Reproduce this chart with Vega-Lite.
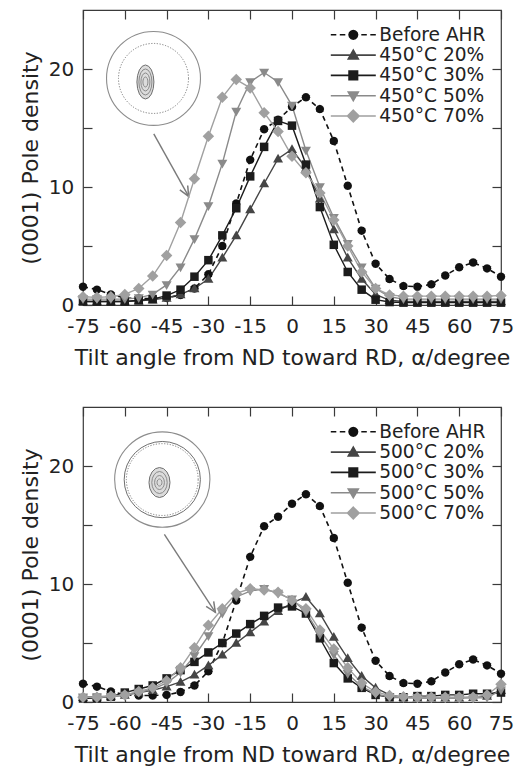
{
  "$schema": "https://vega.github.io/schema/vega-lite/v6.json",
  "padding": {"left": 18, "top": 8, "right": 5, "bottom": 5},
  "spacing": 102,
  "bounds": "flush",
  "resolve": {"scale": {"color": "independent", "shape": "independent", "stroke": "independent"}, "legend": {"color": "independent", "shape": "independent", "stroke": "independent"}},
  "config": {
    "font": "DejaVu Sans",
    "view": {"stroke": "#3a3a3a", "strokeWidth": 1.2},
    "axis": {"domain": false, "grid": false, "tickColor": "#3a3a3a", "tickWidth": 1.2, "labelColor": "#222222", "titleColor": "#222222", "labelFont": "DejaVu Sans", "titleFont": "DejaVu Sans", "titleFontWeight": "normal"},
    "legend": {"labelFont": "DejaVu Sans", "labelColor": "#222222"}
  },
  "datasets": {
    "curves": [
      {"series":"Before AHR","angle":-75,"density":1.55},{"series":"Before AHR","angle":-70,"density":1.3},{"series":"Before AHR","angle":-65,"density":0.9},{"series":"Before AHR","angle":-60,"density":0.6},{"series":"Before AHR","angle":-55,"density":0.55},{"series":"Before AHR","angle":-50,"density":0.55},{"series":"Before AHR","angle":-45,"density":0.6},{"series":"Before AHR","angle":-40,"density":0.85},{"series":"Before AHR","angle":-35,"density":1.4},{"series":"Before AHR","angle":-30,"density":2.6},{"series":"Before AHR","angle":-25,"density":5.0},{"series":"Before AHR","angle":-20,"density":8.6},{"series":"Before AHR","angle":-15,"density":12.3},{"series":"Before AHR","angle":-10,"density":14.9},{"series":"Before AHR","angle":-5,"density":15.7},{"series":"Before AHR","angle":0,"density":16.8},{"series":"Before AHR","angle":5,"density":17.6},{"series":"Before AHR","angle":10,"density":16.6},{"series":"Before AHR","angle":15,"density":13.9},{"series":"Before AHR","angle":20,"density":10.1},{"series":"Before AHR","angle":25,"density":6.3},{"series":"Before AHR","angle":30,"density":3.5},{"series":"Before AHR","angle":35,"density":2.2},{"series":"Before AHR","angle":40,"density":1.6},{"series":"Before AHR","angle":45,"density":1.55},{"series":"Before AHR","angle":50,"density":1.75},{"series":"Before AHR","angle":55,"density":2.5},{"series":"Before AHR","angle":60,"density":3.2},{"series":"Before AHR","angle":65,"density":3.6},{"series":"Before AHR","angle":70,"density":3.1},{"series":"Before AHR","angle":75,"density":2.4},
      {"series":"450°C 20%","angle":-75,"density":0.3},{"series":"450°C 20%","angle":-70,"density":0.3},{"series":"450°C 20%","angle":-65,"density":0.3},{"series":"450°C 20%","angle":-60,"density":0.3},{"series":"450°C 20%","angle":-55,"density":0.35},{"series":"450°C 20%","angle":-50,"density":0.45},{"series":"450°C 20%","angle":-45,"density":0.6},{"series":"450°C 20%","angle":-40,"density":0.9},{"series":"450°C 20%","angle":-35,"density":1.4},{"series":"450°C 20%","angle":-30,"density":2.2},{"series":"450°C 20%","angle":-25,"density":4.0},{"series":"450°C 20%","angle":-20,"density":5.9},{"series":"450°C 20%","angle":-15,"density":8.1},{"series":"450°C 20%","angle":-10,"density":10.3},{"series":"450°C 20%","angle":-5,"density":12.4},{"series":"450°C 20%","angle":0,"density":13.2},{"series":"450°C 20%","angle":5,"density":11.6},{"series":"450°C 20%","angle":10,"density":9.0},{"series":"450°C 20%","angle":15,"density":6.4},{"series":"450°C 20%","angle":20,"density":4.0},{"series":"450°C 20%","angle":25,"density":2.2},{"series":"450°C 20%","angle":30,"density":0.9},{"series":"450°C 20%","angle":35,"density":0.4},{"series":"450°C 20%","angle":40,"density":0.3},{"series":"450°C 20%","angle":45,"density":0.3},{"series":"450°C 20%","angle":50,"density":0.3},{"series":"450°C 20%","angle":55,"density":0.3},{"series":"450°C 20%","angle":60,"density":0.3},{"series":"450°C 20%","angle":65,"density":0.3},{"series":"450°C 20%","angle":70,"density":0.3},{"series":"450°C 20%","angle":75,"density":0.3},
      {"series":"450°C 30%","angle":-75,"density":0.3},{"series":"450°C 30%","angle":-70,"density":0.3},{"series":"450°C 30%","angle":-65,"density":0.3},{"series":"450°C 30%","angle":-60,"density":0.3},{"series":"450°C 30%","angle":-55,"density":0.4},{"series":"450°C 30%","angle":-50,"density":0.5},{"series":"450°C 30%","angle":-45,"density":0.8},{"series":"450°C 30%","angle":-40,"density":1.3},{"series":"450°C 30%","angle":-35,"density":2.4},{"series":"450°C 30%","angle":-30,"density":3.8},{"series":"450°C 30%","angle":-25,"density":5.9},{"series":"450°C 30%","angle":-20,"density":8.2},{"series":"450°C 30%","angle":-15,"density":10.9},{"series":"450°C 30%","angle":-10,"density":13.4},{"series":"450°C 30%","angle":-5,"density":15.6},{"series":"450°C 30%","angle":0,"density":15.2},{"series":"450°C 30%","angle":5,"density":11.9},{"series":"450°C 30%","angle":10,"density":8.3},{"series":"450°C 30%","angle":15,"density":5.1},{"series":"450°C 30%","angle":20,"density":2.8},{"series":"450°C 30%","angle":25,"density":1.3},{"series":"450°C 30%","angle":30,"density":0.45},{"series":"450°C 30%","angle":35,"density":0.25},{"series":"450°C 30%","angle":40,"density":0.2},{"series":"450°C 30%","angle":45,"density":0.2},{"series":"450°C 30%","angle":50,"density":0.2},{"series":"450°C 30%","angle":55,"density":0.2},{"series":"450°C 30%","angle":60,"density":0.2},{"series":"450°C 30%","angle":65,"density":0.2},{"series":"450°C 30%","angle":70,"density":0.2},{"series":"450°C 30%","angle":75,"density":0.2},
      {"series":"450°C 50%","angle":-75,"density":0.5},{"series":"450°C 50%","angle":-70,"density":0.5},{"series":"450°C 50%","angle":-65,"density":0.5},{"series":"450°C 50%","angle":-60,"density":0.5},{"series":"450°C 50%","angle":-55,"density":0.6},{"series":"450°C 50%","angle":-50,"density":0.9},{"series":"450°C 50%","angle":-45,"density":1.7},{"series":"450°C 50%","angle":-40,"density":3.2},{"series":"450°C 50%","angle":-35,"density":5.6},{"series":"450°C 50%","angle":-30,"density":8.4},{"series":"450°C 50%","angle":-25,"density":12.0},{"series":"450°C 50%","angle":-20,"density":16.4},{"series":"450°C 50%","angle":-15,"density":18.9},{"series":"450°C 50%","angle":-10,"density":19.7},{"series":"450°C 50%","angle":-5,"density":18.9},{"series":"450°C 50%","angle":0,"density":16.9},{"series":"450°C 50%","angle":5,"density":13.1},{"series":"450°C 50%","angle":10,"density":10.0},{"series":"450°C 50%","angle":15,"density":7.4},{"series":"450°C 50%","angle":20,"density":5.2},{"series":"450°C 50%","angle":25,"density":3.2},{"series":"450°C 50%","angle":30,"density":1.4},{"series":"450°C 50%","angle":35,"density":0.7},{"series":"450°C 50%","angle":40,"density":0.5},{"series":"450°C 50%","angle":45,"density":0.5},{"series":"450°C 50%","angle":50,"density":0.5},{"series":"450°C 50%","angle":55,"density":0.5},{"series":"450°C 50%","angle":60,"density":0.5},{"series":"450°C 50%","angle":65,"density":0.5},{"series":"450°C 50%","angle":70,"density":0.5},{"series":"450°C 50%","angle":75,"density":0.5},
      {"series":"450°C 70%","angle":-75,"density":0.7},{"series":"450°C 70%","angle":-70,"density":0.65},{"series":"450°C 70%","angle":-65,"density":0.7},{"series":"450°C 70%","angle":-60,"density":0.9},{"series":"450°C 70%","angle":-55,"density":1.4},{"series":"450°C 70%","angle":-50,"density":2.45},{"series":"450°C 70%","angle":-45,"density":4.2},{"series":"450°C 70%","angle":-40,"density":7.0},{"series":"450°C 70%","angle":-35,"density":10.7},{"series":"450°C 70%","angle":-30,"density":14.3},{"series":"450°C 70%","angle":-25,"density":17.6},{"series":"450°C 70%","angle":-20,"density":19.1},{"series":"450°C 70%","angle":-15,"density":18.4},{"series":"450°C 70%","angle":-10,"density":16.3},{"series":"450°C 70%","angle":-5,"density":14.7},{"series":"450°C 70%","angle":0,"density":12.6},{"series":"450°C 70%","angle":5,"density":11.2},{"series":"450°C 70%","angle":10,"density":9.5},{"series":"450°C 70%","angle":15,"density":7.2},{"series":"450°C 70%","angle":20,"density":5.0},{"series":"450°C 70%","angle":25,"density":2.8},{"series":"450°C 70%","angle":30,"density":1.4},{"series":"450°C 70%","angle":35,"density":0.85},{"series":"450°C 70%","angle":40,"density":0.75},{"series":"450°C 70%","angle":45,"density":0.75},{"series":"450°C 70%","angle":50,"density":0.75},{"series":"450°C 70%","angle":55,"density":0.75},{"series":"450°C 70%","angle":60,"density":0.75},{"series":"450°C 70%","angle":65,"density":0.75},{"series":"450°C 70%","angle":70,"density":0.75},{"series":"450°C 70%","angle":75,"density":0.8},
      {"series":"500°C 20%","angle":-75,"density":0.4},{"series":"500°C 20%","angle":-70,"density":0.45},{"series":"500°C 20%","angle":-65,"density":0.5},{"series":"500°C 20%","angle":-60,"density":0.6},{"series":"500°C 20%","angle":-55,"density":0.8},{"series":"500°C 20%","angle":-50,"density":1.0},{"series":"500°C 20%","angle":-45,"density":1.3},{"series":"500°C 20%","angle":-40,"density":1.7},{"series":"500°C 20%","angle":-35,"density":2.3},{"series":"500°C 20%","angle":-30,"density":3.1},{"series":"500°C 20%","angle":-25,"density":4.0},{"series":"500°C 20%","angle":-20,"density":5.0},{"series":"500°C 20%","angle":-15,"density":5.9},{"series":"500°C 20%","angle":-10,"density":6.8},{"series":"500°C 20%","angle":-5,"density":7.7},{"series":"500°C 20%","angle":0,"density":8.4},{"series":"500°C 20%","angle":5,"density":8.9},{"series":"500°C 20%","angle":10,"density":7.5},{"series":"500°C 20%","angle":15,"density":5.5},{"series":"500°C 20%","angle":20,"density":3.7},{"series":"500°C 20%","angle":25,"density":2.2},{"series":"500°C 20%","angle":30,"density":1.2},{"series":"500°C 20%","angle":35,"density":0.6},{"series":"500°C 20%","angle":40,"density":0.4},{"series":"500°C 20%","angle":45,"density":0.35},{"series":"500°C 20%","angle":50,"density":0.35},{"series":"500°C 20%","angle":55,"density":0.35},{"series":"500°C 20%","angle":60,"density":0.35},{"series":"500°C 20%","angle":65,"density":0.4},{"series":"500°C 20%","angle":70,"density":0.5},{"series":"500°C 20%","angle":75,"density":1.0},
      {"series":"500°C 30%","angle":-75,"density":0.3},{"series":"500°C 30%","angle":-70,"density":0.35},{"series":"500°C 30%","angle":-65,"density":0.45},{"series":"500°C 30%","angle":-60,"density":0.8},{"series":"500°C 30%","angle":-55,"density":1.1},{"series":"500°C 30%","angle":-50,"density":1.4},{"series":"500°C 30%","angle":-45,"density":2.0},{"series":"500°C 30%","angle":-40,"density":2.7},{"series":"500°C 30%","angle":-35,"density":3.4},{"series":"500°C 30%","angle":-30,"density":4.2},{"series":"500°C 30%","angle":-25,"density":5.0},{"series":"500°C 30%","angle":-20,"density":5.8},{"series":"500°C 30%","angle":-15,"density":6.6},{"series":"500°C 30%","angle":-10,"density":7.3},{"series":"500°C 30%","angle":-5,"density":8.0},{"series":"500°C 30%","angle":0,"density":8.1},{"series":"500°C 30%","angle":5,"density":7.5},{"series":"500°C 30%","angle":10,"density":5.4},{"series":"500°C 30%","angle":15,"density":3.3},{"series":"500°C 30%","angle":20,"density":2.0},{"series":"500°C 30%","angle":25,"density":1.2},{"series":"500°C 30%","angle":30,"density":0.6},{"series":"500°C 30%","angle":35,"density":0.4},{"series":"500°C 30%","angle":40,"density":0.4},{"series":"500°C 30%","angle":45,"density":0.5},{"series":"500°C 30%","angle":50,"density":0.5},{"series":"500°C 30%","angle":55,"density":0.6},{"series":"500°C 30%","angle":60,"density":0.6},{"series":"500°C 30%","angle":65,"density":0.7},{"series":"500°C 30%","angle":70,"density":0.7},{"series":"500°C 30%","angle":75,"density":0.8},
      {"series":"500°C 50%","angle":-75,"density":0.4},{"series":"500°C 50%","angle":-70,"density":0.4},{"series":"500°C 50%","angle":-65,"density":0.45},{"series":"500°C 50%","angle":-60,"density":0.55},{"series":"500°C 50%","angle":-55,"density":0.8},{"series":"500°C 50%","angle":-50,"density":1.1},{"series":"500°C 50%","angle":-45,"density":1.6},{"series":"500°C 50%","angle":-40,"density":2.5},{"series":"500°C 50%","angle":-35,"density":3.9},{"series":"500°C 50%","angle":-30,"density":5.6},{"series":"500°C 50%","angle":-25,"density":7.5},{"series":"500°C 50%","angle":-20,"density":8.9},{"series":"500°C 50%","angle":-15,"density":9.4},{"series":"500°C 50%","angle":-10,"density":9.6},{"series":"500°C 50%","angle":-5,"density":9.2},{"series":"500°C 50%","angle":0,"density":8.7},{"series":"500°C 50%","angle":5,"density":7.6},{"series":"500°C 50%","angle":10,"density":5.7},{"series":"500°C 50%","angle":15,"density":4.0},{"series":"500°C 50%","angle":20,"density":2.4},{"series":"500°C 50%","angle":25,"density":1.3},{"series":"500°C 50%","angle":30,"density":0.7},{"series":"500°C 50%","angle":35,"density":0.4},{"series":"500°C 50%","angle":40,"density":0.35},{"series":"500°C 50%","angle":45,"density":0.35},{"series":"500°C 50%","angle":50,"density":0.35},{"series":"500°C 50%","angle":55,"density":0.35},{"series":"500°C 50%","angle":60,"density":0.35},{"series":"500°C 50%","angle":65,"density":0.35},{"series":"500°C 50%","angle":70,"density":0.35},{"series":"500°C 50%","angle":75,"density":1.0},
      {"series":"500°C 70%","angle":-75,"density":0.4},{"series":"500°C 70%","angle":-70,"density":0.4},{"series":"500°C 70%","angle":-65,"density":0.5},{"series":"500°C 70%","angle":-60,"density":0.6},{"series":"500°C 70%","angle":-55,"density":0.9},{"series":"500°C 70%","angle":-50,"density":1.2},{"series":"500°C 70%","angle":-45,"density":1.8},{"series":"500°C 70%","angle":-40,"density":2.9},{"series":"500°C 70%","angle":-35,"density":4.6},{"series":"500°C 70%","angle":-30,"density":6.5},{"series":"500°C 70%","angle":-25,"density":7.9},{"series":"500°C 70%","angle":-20,"density":9.2},{"series":"500°C 70%","angle":-15,"density":9.6},{"series":"500°C 70%","angle":-10,"density":9.5},{"series":"500°C 70%","angle":-5,"density":9.3},{"series":"500°C 70%","angle":0,"density":8.6},{"series":"500°C 70%","angle":5,"density":7.9},{"series":"500°C 70%","angle":10,"density":6.1},{"series":"500°C 70%","angle":15,"density":4.5},{"series":"500°C 70%","angle":20,"density":2.9},{"series":"500°C 70%","angle":25,"density":1.6},{"series":"500°C 70%","angle":30,"density":0.85},{"series":"500°C 70%","angle":35,"density":0.55},{"series":"500°C 70%","angle":40,"density":0.45},{"series":"500°C 70%","angle":45,"density":0.4},{"series":"500°C 70%","angle":50,"density":0.4},{"series":"500°C 70%","angle":55,"density":0.4},{"series":"500°C 70%","angle":60,"density":0.4},{"series":"500°C 70%","angle":65,"density":0.4},{"series":"500°C 70%","angle":70,"density":0.6},{"series":"500°C 70%","angle":75,"density":1.5}
    ],
    "insets": [
      {"panel":"450°C","part":"circle","x":-49.7,"y":19.2},
      {"panel":"450°C","part":"contour","x":-52.6,"y":18.9},
      {"panel":"450°C","part":"arrow","x":-49.6,"y":14.5,"x2":-37.1,"y2":9.2},
      {"panel":"500°C","part":"circle","x":-46.55,"y":18.85},
      {"panel":"500°C","part":"contour","x":-47.55,"y":18.6},
      {"panel":"500°C","part":"arrow","x":-45.8,"y":14.2,"x2":-27.5,"y2":7.6}
    ]
  },
  "vconcat": [
    {
      "width": 418, "height": 295,
      "resolve": {"axis": {"x": "independent", "y": "independent"}, "scale": {"color": "independent", "shape": "independent", "stroke": "independent"}, "legend": {"color": "independent", "shape": "independent", "stroke": "independent"}},
      "layer": [
        {"data": {"name": "insets"}, "transform": [{"filter": "datum.panel === '450°C' && datum.part === 'circle'"}],
         "mark": {"type": "point", "shape": "circle", "size": 8825, "filled": false, "stroke": "#8c8c8c", "strokeWidth": 1.1, "opacity": 1},
         "encoding": {"x": {"field": "x", "type": "quantitative", "axis": null}, "y": {"field": "y", "type": "quantitative", "axis": null}}},
        {"data": {"name": "insets"}, "transform": [{"filter": "datum.panel === '450°C' && datum.part === 'circle'"}],
         "mark": {"type": "point", "shape": "circle", "size": 4902, "filled": false, "stroke": "#7a7a7a", "strokeWidth": 1, "strokeDash": [1.2, 1.6], "opacity": 1},
         "encoding": {"x": {"field": "x", "type": "quantitative", "axis": null}, "y": {"field": "y", "type": "quantitative", "axis": null}}},
        {"data": {"name": "insets"}, "transform": [{"filter": "datum.panel === '450°C' && datum.part === 'contour'"}],
         "mark": {"type": "point", "shape": "M0.5,0L0.462,0.383L0.354,0.707L0.191,0.924L0,1L-0.191,0.924L-0.354,0.707L-0.462,0.383L-0.5,0L-0.462,-0.383L-0.354,-0.707L-0.191,-0.924L0,-1L0.191,-0.924L0.354,-0.707L0.462,-0.383Z", "size": 1156, "filled": true, "fill": "#dcdcdc", "stroke": "#6e6e6e", "strokeWidth": 1, "opacity": 1},
         "encoding": {"x": {"field": "x", "type": "quantitative", "axis": null}, "y": {"field": "y", "type": "quantitative", "axis": null}}},
        {"data": {"name": "insets"}, "transform": [{"filter": "datum.panel === '450°C' && datum.part === 'contour'"}],
         "mark": {"type": "point", "shape": "M0.5,0L0.462,0.383L0.354,0.707L0.191,0.924L0,1L-0.191,0.924L-0.354,0.707L-0.462,0.383L-0.5,0L-0.462,-0.383L-0.354,-0.707L-0.191,-0.924L0,-1L0.191,-0.924L0.354,-0.707L0.462,-0.383Z", "size": 676, "filled": false, "stroke": "#808080", "strokeWidth": 0.9, "opacity": 1},
         "encoding": {"x": {"field": "x", "type": "quantitative", "axis": null}, "y": {"field": "y", "type": "quantitative", "axis": null}}},
        {"data": {"name": "insets"}, "transform": [{"filter": "datum.panel === '450°C' && datum.part === 'contour'"}],
         "mark": {"type": "point", "shape": "M0.5,0L0.462,0.383L0.354,0.707L0.191,0.924L0,1L-0.191,0.924L-0.354,0.707L-0.462,0.383L-0.5,0L-0.462,-0.383L-0.354,-0.707L-0.191,-0.924L0,-1L0.191,-0.924L0.354,-0.707L0.462,-0.383Z", "size": 324, "filled": false, "stroke": "#808080", "strokeWidth": 0.9, "opacity": 1},
         "encoding": {"x": {"field": "x", "type": "quantitative", "axis": null}, "y": {"field": "y", "type": "quantitative", "axis": null}}},
        {"data": {"name": "insets"}, "transform": [{"filter": "datum.panel === '450°C' && datum.part === 'contour'"}],
         "mark": {"type": "point", "shape": "M0.5,0L0.462,0.383L0.354,0.707L0.191,0.924L0,1L-0.191,0.924L-0.354,0.707L-0.462,0.383L-0.5,0L-0.462,-0.383L-0.354,-0.707L-0.191,-0.924L0,-1L0.191,-0.924L0.354,-0.707L0.462,-0.383Z", "size": 100, "filled": false, "stroke": "#808080", "strokeWidth": 0.9, "opacity": 1},
         "encoding": {"x": {"field": "x", "type": "quantitative", "axis": null}, "y": {"field": "y", "type": "quantitative", "axis": null}}},
        {"data": {"name": "insets"}, "transform": [{"filter": "datum.panel === '450°C' && datum.part === 'arrow'"}],
         "mark": {"type": "rule", "stroke": "#7a7a7a", "strokeWidth": 1.4},
         "encoding": {"x": {"field": "x", "type": "quantitative", "axis": null}, "y": {"field": "y", "type": "quantitative", "axis": null}, "x2": {"field": "x2"}, "y2": {"field": "y2"}}},
        {"data": {"name": "insets"}, "transform": [{"filter": "datum.panel === '450°C' && datum.part === 'arrow'"}],
         "mark": {"type": "point", "shape": "M-0.45,-1L0,0L0.45,-1", "size": 400, "angle": -29, "filled": false, "stroke": "#7a7a7a", "strokeWidth": 1.5, "opacity": 1},
         "encoding": {"x": {"field": "x2", "type": "quantitative", "axis": null}, "y": {"field": "y2", "type": "quantitative", "axis": null}}},
        {"data": {"name": "curves"}, "transform": [{"filter": "datum.series === 'Before AHR'"}],
         "mark": {"type": "line", "strokeDash": [5, 4], "strokeWidth": 1.6},
         "encoding": {
           "x": {"field": "angle", "type": "quantitative", "scale": {"domain": [-75, 75], "nice": false, "zero": false},
                 "axis": {"orient": "bottom", "values": [-75, -60, -45, -30, -15, 0, 15, 30, 45, 60, 75], "labelExpr": "datum.value < 0 ? '-' + abs(datum.value) : '' + datum.value", "title": "Tilt angle from ND toward RD, α/degree", "labelFontSize": 20, "titleFontSize": 22, "tickSize": -9, "labelPadding": 20, "titlePadding": 11, "labelOverlap": false, "labelFlush": false, "labelBound": false}},
           "y": {"field": "density", "type": "quantitative", "scale": {"domain": [0, 25], "nice": false},
                 "axis": {"orient": "left", "values": [0, 5, 10, 15, 20], "labelExpr": "datum.value % 10 === 0 ? datum.label : ''", "title": "(0001) Pole density", "labelFontSize": 20, "titleFontSize": 22, "tickSize": -9, "labelPadding": 18.3, "titlePadding": 6, "labelOverlap": false}},
           "color": {"field": "series", "type": "nominal", "legend": null, "scale": {"domain": ["Before AHR", "450°C 20%", "450°C 30%", "450°C 50%", "450°C 70%"], "range": ["#111111", "#454545", "#1c1c1c", "#8a8a8a", "#a0a0a0"]}}
         }},
        {"data": {"name": "curves"}, "transform": [{"filter": "indexof(datum.series, '450') === 0"}],
         "mark": {"type": "line", "strokeWidth": 1.4},
         "encoding": {
           "x": {"field": "angle", "type": "quantitative", "axis": null},
           "y": {"field": "density", "type": "quantitative", "axis": null},
           "color": {"field": "series", "type": "nominal", "legend": null, "scale": {"domain": ["Before AHR", "450°C 20%", "450°C 30%", "450°C 50%", "450°C 70%"], "range": ["#111111", "#454545", "#1c1c1c", "#8a8a8a", "#a0a0a0"]}}
         }},
        {"data": {"name": "curves"}, "transform": [{"filter": "datum.series === 'Before AHR' || indexof(datum.series, '450') === 0"}],
         "mark": {"type": "point", "filled": true, "opacity": 1, "size": 100},
         "encoding": {
           "x": {"field": "angle", "type": "quantitative", "axis": {"orient": "top", "values": [-75, -60, -45, -30, -15, 0, 15, 30, 45, 60, 75], "labels": false, "title": null, "tickSize": -9}},
           "y": {"field": "density", "type": "quantitative", "axis": {"orient": "right", "values": [0, 5, 10, 15, 20], "labels": false, "title": null, "tickSize": -9}},
           "color": {"field": "series", "type": "nominal", "legend": null, "scale": {"domain": ["Before AHR", "450°C 20%", "450°C 30%", "450°C 50%", "450°C 70%"], "range": ["#111111", "#454545", "#1c1c1c", "#8a8a8a", "#a0a0a0"]}},
           "shape": {"field": "series", "type": "nominal", "legend": null, "scale": {"domain": ["Before AHR", "450°C 20%", "450°C 30%", "450°C 50%", "450°C 70%"], "range": ["M-0.85,0L-0.74,-0.43L-0.43,-0.74L0,-0.85L0.43,-0.74L0.74,-0.43L0.85,0L0.74,0.43L0.43,0.74L0,0.85L-0.43,0.74L-0.74,0.43Z", "M0,-1L1,0.75L-1,0.75Z", "M-0.85,-0.85H0.85V0.85H-0.85Z", "M0,1L1,-0.75L-1,-0.75Z", "M0,-1.15L1.15,0L0,1.15L-1.15,0Z"]}}
         }},
        {"data": {"name": "curves"}, "transform": [{"filter": "false"}],
         "mark": {"type": "point", "filled": true, "opacity": 1, "strokeWidth": 1.6},
         "encoding": {
           "x": {"field": "angle", "type": "quantitative", "axis": null},
           "y": {"field": "density", "type": "quantitative", "axis": null},
           "color": {"field": "series", "type": "nominal", "scale": {"domain": ["Before AHR", "450°C 20%", "450°C 30%", "450°C 50%", "450°C 70%"], "range": ["#111111", "#454545", "#1c1c1c", "#8a8a8a", "#a0a0a0"]},
             "legend": {"title": null, "orient": "none", "legendX": 261, "legendY": 15.5, "padding": 0, "labelFontSize": 18.6, "symbolSize": 100, "labelOffset": 16.6, "rowPadding": 1.3, "symbolStrokeWidth": 1.6}},
           "stroke": {"field": "series", "type": "nominal", "scale": {"domain": ["Before AHR", "450°C 20%", "450°C 30%", "450°C 50%", "450°C 70%"], "range": ["#111111", "#454545", "#1c1c1c", "#8a8a8a", "#a0a0a0"]},
             "legend": {"title": null, "orient": "none", "legendX": 261, "legendY": 15.5, "padding": 0, "labelFontSize": 18.6, "symbolSize": 100, "labelOffset": 16.6, "rowPadding": 1.3, "symbolStrokeWidth": 1.6}},
           "shape": {"field": "series", "type": "nominal", "scale": {"domain": ["Before AHR", "450°C 20%", "450°C 30%", "450°C 50%", "450°C 70%"], "range": ["M-4.5,0H-3.4M-2.7,0H-1.6M-0.85,0L-0.74,-0.43L-0.43,-0.74L0,-0.85L0.43,-0.74L0.74,-0.43L0.85,0L0.74,0.43L0.43,0.74L0,0.85L-0.43,0.74L-0.74,0.43ZM1.6,0H2.7M3.4,0H4.5", "M-4.5,0H4.5M0,-1L1,0.75L-1,0.75Z", "M-4.5,0H4.5M-0.85,-0.85H0.85V0.85H-0.85Z", "M-4.5,0H4.5M0,1L1,-0.75L-1,-0.75Z", "M-4.5,0H4.5M0,-1.15L1.15,0L0,1.15L-1.15,0Z"]},
             "legend": {"title": null, "orient": "none", "legendX": 261, "legendY": 15.5, "padding": 0, "labelFontSize": 18.6, "symbolSize": 100, "labelOffset": 16.6, "rowPadding": 1.3, "symbolStrokeWidth": 1.6}}
         }}
      ]
    },
    {
      "width": 418, "height": 295,
      "resolve": {"axis": {"x": "independent", "y": "independent"}, "scale": {"color": "independent", "shape": "independent", "stroke": "independent"}, "legend": {"color": "independent", "shape": "independent", "stroke": "independent"}},
      "layer": [
        {"data": {"name": "insets"}, "transform": [{"filter": "datum.panel === '500°C' && datum.part === 'circle'"}],
         "mark": {"type": "point", "shape": "circle", "size": 9076, "filled": false, "stroke": "#8c8c8c", "strokeWidth": 1.1, "opacity": 1},
         "encoding": {"x": {"field": "x", "type": "quantitative", "axis": null}, "y": {"field": "y", "type": "quantitative", "axis": null}}},
        {"data": {"name": "insets"}, "transform": [{"filter": "datum.panel === '500°C' && datum.part === 'circle'"}],
         "mark": {"type": "point", "shape": "circle", "size": 5809, "filled": false, "stroke": "#6e6e6e", "strokeWidth": 1, "opacity": 1},
         "encoding": {"x": {"field": "x", "type": "quantitative", "axis": null}, "y": {"field": "y", "type": "quantitative", "axis": null}}},
        {"data": {"name": "insets"}, "transform": [{"filter": "datum.panel === '500°C' && datum.part === 'circle'"}],
         "mark": {"type": "point", "shape": "circle", "size": 5153, "filled": false, "stroke": "#7a7a7a", "strokeWidth": 1, "strokeDash": [1.2, 1.6], "opacity": 1},
         "encoding": {"x": {"field": "x", "type": "quantitative", "axis": null}, "y": {"field": "y", "type": "quantitative", "axis": null}}},
        {"data": {"name": "insets"}, "transform": [{"filter": "datum.panel === '500°C' && datum.part === 'contour'"}],
         "mark": {"type": "point", "shape": "M0.7,0L0.647,0.383L0.495,0.707L0.268,0.924L0,1L-0.268,0.924L-0.495,0.707L-0.647,0.383L-0.7,0L-0.647,-0.383L-0.495,-0.707L-0.268,-0.924L0,-1L0.268,-0.924L0.495,-0.707L0.647,-0.383Z", "size": 900, "filled": true, "fill": "#dcdcdc", "stroke": "#6e6e6e", "strokeWidth": 1, "opacity": 1},
         "encoding": {"x": {"field": "x", "type": "quantitative", "axis": null}, "y": {"field": "y", "type": "quantitative", "axis": null}}},
        {"data": {"name": "insets"}, "transform": [{"filter": "datum.panel === '500°C' && datum.part === 'contour'"}],
         "mark": {"type": "point", "shape": "M0.7,0L0.647,0.383L0.495,0.707L0.268,0.924L0,1L-0.268,0.924L-0.495,0.707L-0.647,0.383L-0.7,0L-0.647,-0.383L-0.495,-0.707L-0.268,-0.924L0,-1L0.268,-0.924L0.495,-0.707L0.647,-0.383Z", "size": 484, "filled": false, "stroke": "#808080", "strokeWidth": 0.9, "opacity": 1},
         "encoding": {"x": {"field": "x", "type": "quantitative", "axis": null}, "y": {"field": "y", "type": "quantitative", "axis": null}}},
        {"data": {"name": "insets"}, "transform": [{"filter": "datum.panel === '500°C' && datum.part === 'contour'"}],
         "mark": {"type": "point", "shape": "M0.7,0L0.647,0.383L0.495,0.707L0.268,0.924L0,1L-0.268,0.924L-0.495,0.707L-0.647,0.383L-0.7,0L-0.647,-0.383L-0.495,-0.707L-0.268,-0.924L0,-1L0.268,-0.924L0.495,-0.707L0.647,-0.383Z", "size": 196, "filled": false, "stroke": "#808080", "strokeWidth": 0.9, "opacity": 1},
         "encoding": {"x": {"field": "x", "type": "quantitative", "axis": null}, "y": {"field": "y", "type": "quantitative", "axis": null}}},
        {"data": {"name": "insets"}, "transform": [{"filter": "datum.panel === '500°C' && datum.part === 'contour'"}],
         "mark": {"type": "point", "shape": "M0.7,0L0.647,0.383L0.495,0.707L0.268,0.924L0,1L-0.268,0.924L-0.495,0.707L-0.647,0.383L-0.7,0L-0.647,-0.383L-0.495,-0.707L-0.268,-0.924L0,-1L0.268,-0.924L0.495,-0.707L0.647,-0.383Z", "size": 49, "filled": false, "stroke": "#808080", "strokeWidth": 0.9, "opacity": 1},
         "encoding": {"x": {"field": "x", "type": "quantitative", "axis": null}, "y": {"field": "y", "type": "quantitative", "axis": null}}},
        {"data": {"name": "insets"}, "transform": [{"filter": "datum.panel === '500°C' && datum.part === 'arrow'"}],
         "mark": {"type": "rule", "stroke": "#7a7a7a", "strokeWidth": 1.4},
         "encoding": {"x": {"field": "x", "type": "quantitative", "axis": null}, "y": {"field": "y", "type": "quantitative", "axis": null}, "x2": {"field": "x2"}, "y2": {"field": "y2"}}},
        {"data": {"name": "insets"}, "transform": [{"filter": "datum.panel === '500°C' && datum.part === 'arrow'"}],
         "mark": {"type": "point", "shape": "M-0.45,-1L0,0L0.45,-1", "size": 400, "angle": -33, "filled": false, "stroke": "#7a7a7a", "strokeWidth": 1.5, "opacity": 1},
         "encoding": {"x": {"field": "x2", "type": "quantitative", "axis": null}, "y": {"field": "y2", "type": "quantitative", "axis": null}}},
        {"data": {"name": "curves"}, "transform": [{"filter": "datum.series === 'Before AHR'"}],
         "mark": {"type": "line", "strokeDash": [5, 4], "strokeWidth": 1.6},
         "encoding": {
           "x": {"field": "angle", "type": "quantitative", "scale": {"domain": [-75, 75], "nice": false, "zero": false},
                 "axis": {"orient": "bottom", "values": [-75, -60, -45, -30, -15, 0, 15, 30, 45, 60, 75], "labelExpr": "datum.value < 0 ? '-' + abs(datum.value) : '' + datum.value", "title": "Tilt angle from ND toward RD, α/degree", "labelFontSize": 20, "titleFontSize": 22, "tickSize": -9, "labelPadding": 20, "titlePadding": 11, "labelOverlap": false, "labelFlush": false, "labelBound": false}},
           "y": {"field": "density", "type": "quantitative", "scale": {"domain": [0, 25], "nice": false},
                 "axis": {"orient": "left", "values": [0, 5, 10, 15, 20], "labelExpr": "datum.value % 10 === 0 ? datum.label : ''", "title": "(0001) Pole density", "labelFontSize": 20, "titleFontSize": 22, "tickSize": -9, "labelPadding": 18.3, "titlePadding": 6, "labelOverlap": false}},
           "color": {"field": "series", "type": "nominal", "legend": null, "scale": {"domain": ["Before AHR", "500°C 20%", "500°C 30%", "500°C 50%", "500°C 70%"], "range": ["#111111", "#454545", "#1c1c1c", "#8a8a8a", "#a0a0a0"]}}
         }},
        {"data": {"name": "curves"}, "transform": [{"filter": "indexof(datum.series, '500') === 0"}],
         "mark": {"type": "line", "strokeWidth": 1.4},
         "encoding": {
           "x": {"field": "angle", "type": "quantitative", "axis": null},
           "y": {"field": "density", "type": "quantitative", "axis": null},
           "color": {"field": "series", "type": "nominal", "legend": null, "scale": {"domain": ["Before AHR", "500°C 20%", "500°C 30%", "500°C 50%", "500°C 70%"], "range": ["#111111", "#454545", "#1c1c1c", "#8a8a8a", "#a0a0a0"]}}
         }},
        {"data": {"name": "curves"}, "transform": [{"filter": "datum.series === 'Before AHR' || indexof(datum.series, '500') === 0"}],
         "mark": {"type": "point", "filled": true, "opacity": 1, "size": 100},
         "encoding": {
           "x": {"field": "angle", "type": "quantitative", "axis": {"orient": "top", "values": [-75, -60, -45, -30, -15, 0, 15, 30, 45, 60, 75], "labels": false, "title": null, "tickSize": -9}},
           "y": {"field": "density", "type": "quantitative", "axis": {"orient": "right", "values": [0, 5, 10, 15, 20], "labels": false, "title": null, "tickSize": -9}},
           "color": {"field": "series", "type": "nominal", "legend": null, "scale": {"domain": ["Before AHR", "500°C 20%", "500°C 30%", "500°C 50%", "500°C 70%"], "range": ["#111111", "#454545", "#1c1c1c", "#8a8a8a", "#a0a0a0"]}},
           "shape": {"field": "series", "type": "nominal", "legend": null, "scale": {"domain": ["Before AHR", "500°C 20%", "500°C 30%", "500°C 50%", "500°C 70%"], "range": ["M-0.85,0L-0.74,-0.43L-0.43,-0.74L0,-0.85L0.43,-0.74L0.74,-0.43L0.85,0L0.74,0.43L0.43,0.74L0,0.85L-0.43,0.74L-0.74,0.43Z", "M0,-1L1,0.75L-1,0.75Z", "M-0.85,-0.85H0.85V0.85H-0.85Z", "M0,1L1,-0.75L-1,-0.75Z", "M0,-1.15L1.15,0L0,1.15L-1.15,0Z"]}}
         }},
        {"data": {"name": "curves"}, "transform": [{"filter": "false"}],
         "mark": {"type": "point", "filled": true, "opacity": 1, "strokeWidth": 1.6},
         "encoding": {
           "x": {"field": "angle", "type": "quantitative", "axis": null},
           "y": {"field": "density", "type": "quantitative", "axis": null},
           "color": {"field": "series", "type": "nominal", "scale": {"domain": ["Before AHR", "500°C 20%", "500°C 30%", "500°C 50%", "500°C 70%"], "range": ["#111111", "#454545", "#1c1c1c", "#8a8a8a", "#a0a0a0"]},
             "legend": {"title": null, "orient": "none", "legendX": 261, "legendY": 15.5, "padding": 0, "labelFontSize": 18.6, "symbolSize": 100, "labelOffset": 16.6, "rowPadding": 1.3, "symbolStrokeWidth": 1.6}},
           "stroke": {"field": "series", "type": "nominal", "scale": {"domain": ["Before AHR", "500°C 20%", "500°C 30%", "500°C 50%", "500°C 70%"], "range": ["#111111", "#454545", "#1c1c1c", "#8a8a8a", "#a0a0a0"]},
             "legend": {"title": null, "orient": "none", "legendX": 261, "legendY": 15.5, "padding": 0, "labelFontSize": 18.6, "symbolSize": 100, "labelOffset": 16.6, "rowPadding": 1.3, "symbolStrokeWidth": 1.6}},
           "shape": {"field": "series", "type": "nominal", "scale": {"domain": ["Before AHR", "500°C 20%", "500°C 30%", "500°C 50%", "500°C 70%"], "range": ["M-4.5,0H-3.4M-2.7,0H-1.6M-0.85,0L-0.74,-0.43L-0.43,-0.74L0,-0.85L0.43,-0.74L0.74,-0.43L0.85,0L0.74,0.43L0.43,0.74L0,0.85L-0.43,0.74L-0.74,0.43ZM1.6,0H2.7M3.4,0H4.5", "M-4.5,0H4.5M0,-1L1,0.75L-1,0.75Z", "M-4.5,0H4.5M-0.85,-0.85H0.85V0.85H-0.85Z", "M-4.5,0H4.5M0,1L1,-0.75L-1,-0.75Z", "M-4.5,0H4.5M0,-1.15L1.15,0L0,1.15L-1.15,0Z"]},
             "legend": {"title": null, "orient": "none", "legendX": 261, "legendY": 15.5, "padding": 0, "labelFontSize": 18.6, "symbolSize": 100, "labelOffset": 16.6, "rowPadding": 1.3, "symbolStrokeWidth": 1.6}}
         }}
      ]
    }
  ]
}
